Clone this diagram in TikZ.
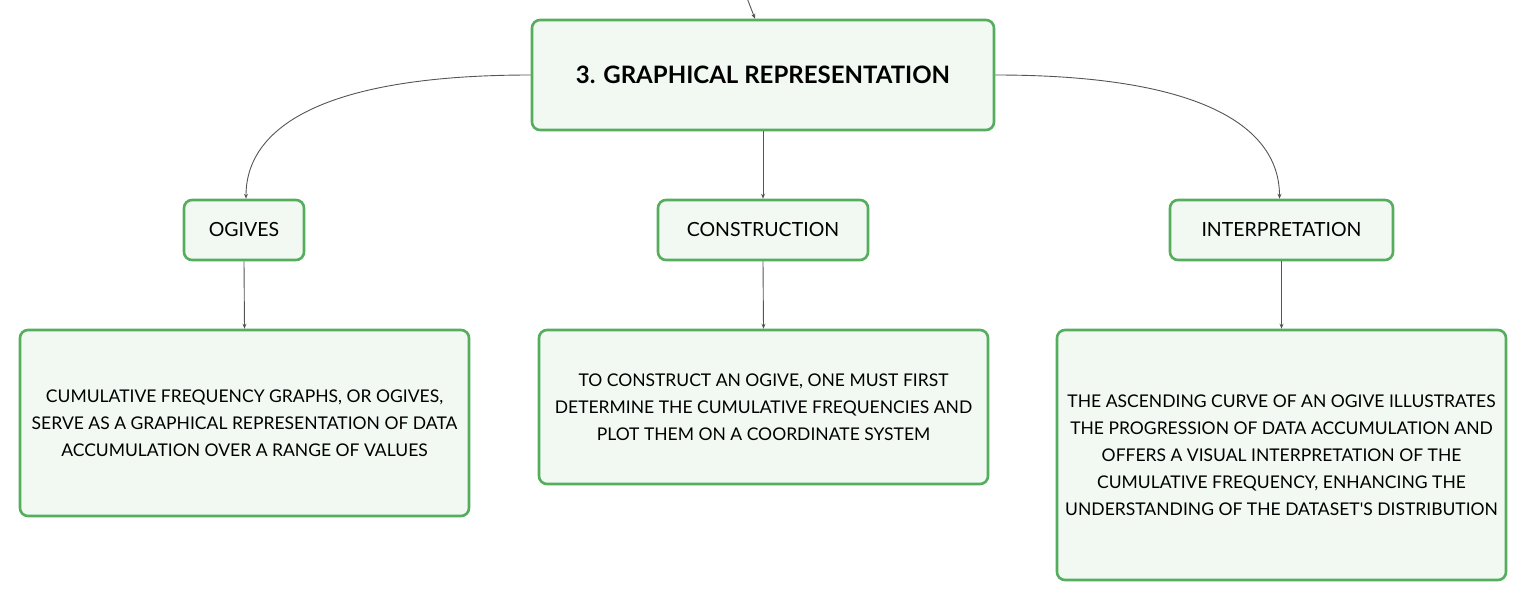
\documentclass[tikz,border=0pt]{standalone}
\usepackage{fontspec}
\setmainfont{Lato}
\usetikzlibrary{arrows.meta}
\definecolor{boxfill}{HTML}{F1F9F2}
\definecolor{boxdraw}{HTML}{55AD5E}
\definecolor{linkc}{HTML}{555555}
\tikzset{
  box/.style={draw=boxdraw, fill=boxfill, line width=2.6pt, rounded corners=8pt, inner sep=0pt, align=center, text=black},
  link/.style={draw=linkc, line width=0.9pt, -{Stealth[length=5pt,width=4pt]}},
  bodytxt/.style={font=\fontsize{17.5}{27}\selectfont},
  labtxt/.style={font=\fontsize{19.5}{22}\selectfont},
}
\begin{document}
\begin{tikzpicture}[x=1pt,y=-1pt]
\useasboundingbox (0,0) rectangle (1527,602);
\node[box, minimum width=462pt, minimum height=110pt, font=\bfseries\fontsize{24}{28}\selectfont] (main) at (763,75) {3. GRAPHICAL REPRESENTATION};
\node[box, minimum width=120pt, minimum height=60pt, labtxt] (og) at (244,230) {OGIVES};
\node[box, minimum width=210pt, minimum height=60pt, labtxt] (con) at (763,230) {CONSTRUCTION};
\node[box, minimum width=223pt, minimum height=60pt, labtxt] (int) at (1281.5,230) {INTERPRETATION};
\node[box, minimum width=449pt, minimum height=186pt, bodytxt] (b1) at (244.5,423) {CUMULATIVE FREQUENCY GRAPHS, OR OGIVES,\\SERVE AS A GRAPHICAL REPRESENTATION OF DATA\\ACCUMULATION OVER A RANGE OF VALUES};
\node[box, minimum width=449pt, minimum height=154pt, bodytxt] (b2) at (763.5,407) {TO CONSTRUCT AN OGIVE, ONE MUST FIRST\\DETERMINE THE CUMULATIVE FREQUENCIES AND\\PLOT THEM ON A COORDINATE SYSTEM};
\node[box, minimum width=449pt, minimum height=250pt, bodytxt] (b3) at (1281.5,455) {THE ASCENDING CURVE OF AN OGIVE ILLUSTRATES\\THE PROGRESSION OF DATA ACCUMULATION AND\\OFFERS A VISUAL INTERPRETATION OF THE\\CUMULATIVE FREQUENCY, ENHANCING THE\\UNDERSTANDING OF THE DATASET\textquotesingle S DISTRIBUTION};
\coordinate (top) at (747,-2);
\draw[link] (top) -- ([xshift=-8pt]main.north);
\draw[link] (main.west) .. controls (320,75) and ([xshift=2pt,yshift=70pt]og.north) .. ([xshift=2pt]og.north);
\draw[link] (main.east) .. controls (1206,75) and ([xshift=-2pt,yshift=70pt]int.north) .. ([xshift=-2pt]int.north);
\draw[link] (main.south) -- (con.north);
\draw[link] (og.south) -- (b1.north);
\draw[link] (con.south) -- (b2.north);
\draw[link] (int.south) -- (b3.north);
\end{tikzpicture}
\end{document}
